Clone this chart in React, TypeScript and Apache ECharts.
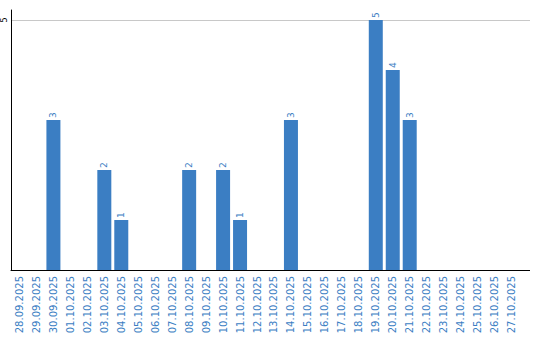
import React, { useEffect, useRef } from "react";
import * as echarts from "echarts";

const categories = [
  "28.09.2025", "29.09.2025", "30.09.2025", "01.10.2025", "02.10.2025",
  "03.10.2025", "04.10.2025", "05.10.2025", "06.10.2025", "07.10.2025",
  "08.10.2025", "09.10.2025", "10.10.2025", "11.10.2025", "12.10.2025",
  "13.10.2025", "14.10.2025", "15.10.2025", "16.10.2025", "17.10.2025",
  "18.10.2025", "19.10.2025", "20.10.2025", "21.10.2025", "22.10.2025",
  "23.10.2025", "24.10.2025", "25.10.2025", "26.10.2025", "27.10.2025",
];
const counts = [
  0, 0, 3, 0, 0, 2, 1, 0, 0, 0,
  2, 0, 2, 1, 0, 0, 3, 0, 0, 0,
  0, 5, 4, 3, 0, 0, 0, 0, 0, 0,
];
const yTicks = [5];

const BLUE = "#3b7ec3";

export default function App() {
  const ref = useRef<HTMLDivElement>(null);
  useEffect(() => {
    if (!ref.current) return;
    const chart = echarts.init(ref.current, null, { renderer: "svg" });
    chart.setOption({
      animation: false,
      textStyle: { fontFamily: "DejaVu Sans" },
      grid: { left: 10, right: 20, top: 10, bottom: 70, containLabel: false },
      xAxis: {
        type: "category",
        data: categories,
        axisLine: { lineStyle: { color: "#000", width: 1 } },
        axisTick: { show: false },
        axisLabel: {
          rotate: 90,
          interval: 0,
          color: BLUE,
          fontSize: 10,
          margin: 6,
        },
      },
      yAxis: {
        type: "value",
        min: 0,
        max: 5.2,
        interval: 5,
        axisLine: { show: true, lineStyle: { color: "#000", width: 1 } },
        axisTick: { show: false },
        splitLine: {
          show: true,
          lineStyle: { color: "#c8c8c8", width: 1 },
          showMaxLine: false,
        },
        axisLabel: {
          rotate: 90,
          fontSize: 8,
          color: "#000",
          margin: 3,
          formatter: (v: number) => (yTicks.includes(v) ? String(v) : ""),
        },
      },
      graphic: [
        {
          type: "line",
          shape: { x1: 519, y1: 270.5, x2: 530, y2: 270.5 },
          style: { stroke: "#000", lineWidth: 1 },
        },
        {
          type: "line",
          shape: { x1: 519, y1: 20.5, x2: 530, y2: 20.5 },
          style: { stroke: "#c8c8c8", lineWidth: 1 },
        },
      ],
      series: [
        {
          type: "bar",
          data: counts.map((v) => (v === 0 ? null : v)),
          barWidth: 14,
          itemStyle: { color: BLUE },
          label: {
            show: true,
            position: "top",
            rotate: 90,
            align: "left",
            verticalAlign: "middle",
            distance: 2,
            fontSize: 9,
            color: BLUE,
          },
        },
      ],
    });
    return () => chart.dispose();
  }, []);
  return <div ref={ref} style={{ width: 540, height: 340, position: "absolute", left: 0, top: 0 }} />;
}
